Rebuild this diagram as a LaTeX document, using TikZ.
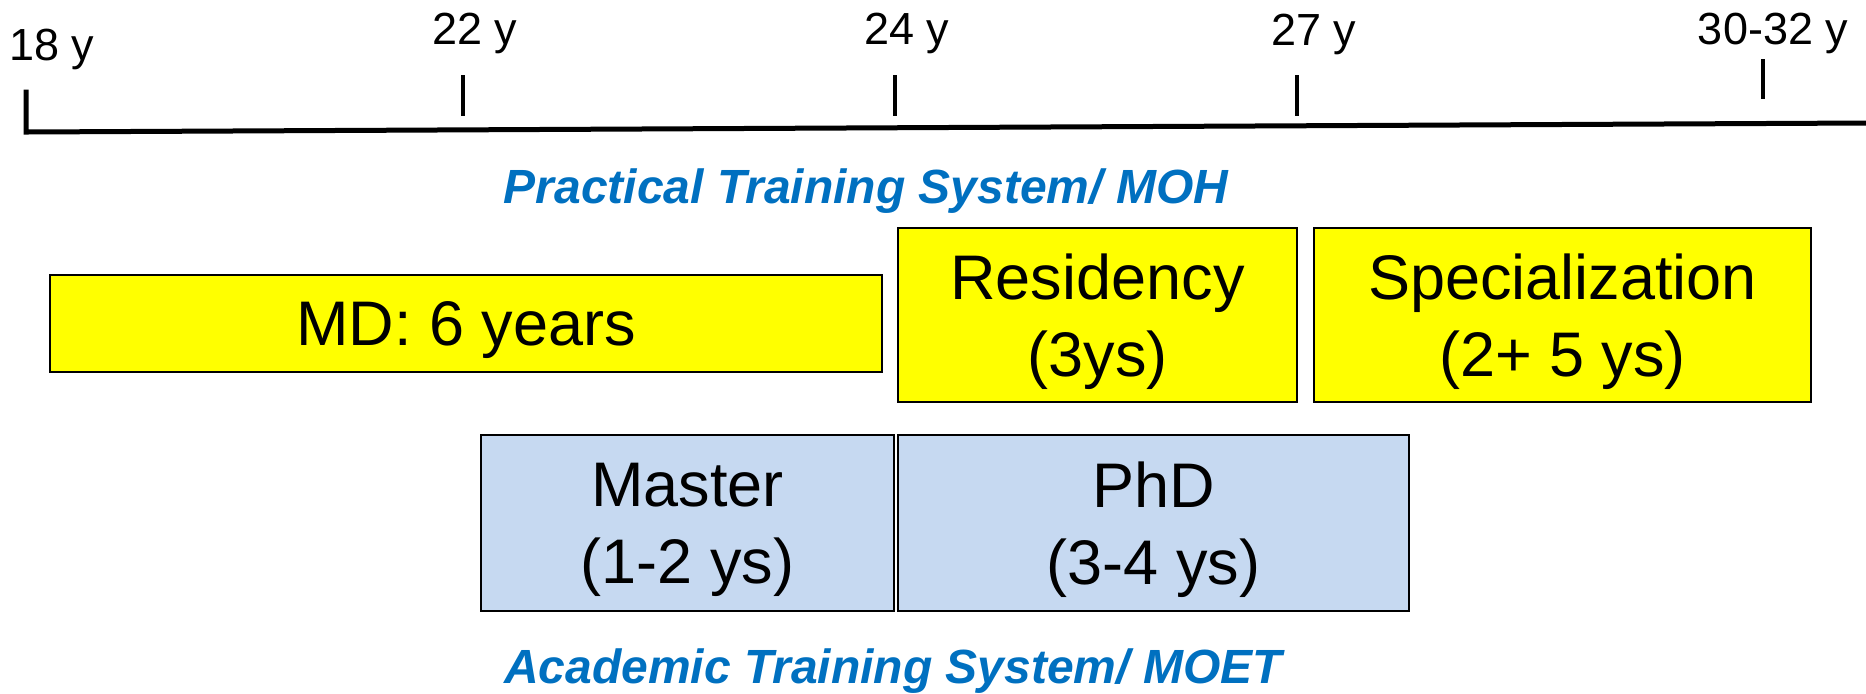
\documentclass[tikz,border=0pt]{standalone}
\usepackage{fontspec}
\setmainfont{Liberation Sans}
\definecolor{mohblue}{HTML}{0070C0}
\definecolor{boxyellow}{HTML}{FFFF00}
\definecolor{boxblue}{HTML}{C6D9F1}
\begin{document}
\begin{tikzpicture}[x=0.5pt,y=-0.5pt,
  axisline/.style={line width=2.5pt,line cap=rect},
  tickmark/.style={line width=2pt},
  agelabel/.style={anchor=base,inner sep=0pt,font=\fontsize{22.5}{27}\selectfont},
  systemtitle/.style={anchor=base,inner sep=0pt,text=mohblue,font=\fontsize{24}{29}\selectfont\bfseries\itshape},
  stagebox/.style={draw=black,line width=1pt,inner sep=0pt,text depth=0pt,align=center,font=\fontsize{31.5}{38.5}\selectfont},
  practical/.style={stagebox,fill=boxyellow},
  academic/.style={stagebox,fill=boxblue}]
\useasboundingbox (0,0) rectangle (1866,693);
% timeline
\coordinate (t18top) at (26,92);
\coordinate (t18) at (26,132);
\coordinate (tend) at (1866,123);
\draw[axisline] (t18top) -- (t18) -- (tend);
\coordinate (k22a) at (463,75); \coordinate (k22b) at (463,116);
\coordinate (k24a) at (895,75); \coordinate (k24b) at (895,116);
\coordinate (k27a) at (1297,75); \coordinate (k27b) at (1297,116);
\coordinate (k30a) at (1763,59); \coordinate (k30b) at (1763,99);
\draw[tickmark] (k22a) -- (k22b);
\draw[tickmark] (k24a) -- (k24b);
\draw[tickmark] (k27a) -- (k27b);
\draw[tickmark] (k30a) -- (k30b);
\node[agelabel] (l18) at (52,60) {18 y};
\node[agelabel] (l22) at (475,44) {22 y};
\node[agelabel] (l24) at (907,44) {24 y};
\node[agelabel] (l27) at (1314,45) {27 y};
\node[agelabel] (l30) at (1773,44) {30-32 y};
% titles
\node[systemtitle] (moh) at (866,203) {Practical Training System/ MOH};
\node[systemtitle] (moet) at (893,683) {Academic Training System/ MOET};
% boxes
\node[practical,minimum width=416pt,minimum height=48.5pt] (md) at (466,323.5) {MD: 6 years};
\node[practical,minimum width=199.5pt,minimum height=87pt] (res) at (1097.5,315) {Residency\\(3ys)};
\node[practical,minimum width=248.5pt,minimum height=87pt] (spec) at (1562.5,315) {Specialization\\(2+ 5 ys)};
\node[academic,minimum width=206.5pt,minimum height=88pt] (master) at (687.5,523) {Master\\(1-2 ys)};
\node[academic,minimum width=255.5pt,minimum height=88pt] (phd) at (1153.5,523) {PhD\\(3-4 ys)};
\end{tikzpicture}
\end{document}
